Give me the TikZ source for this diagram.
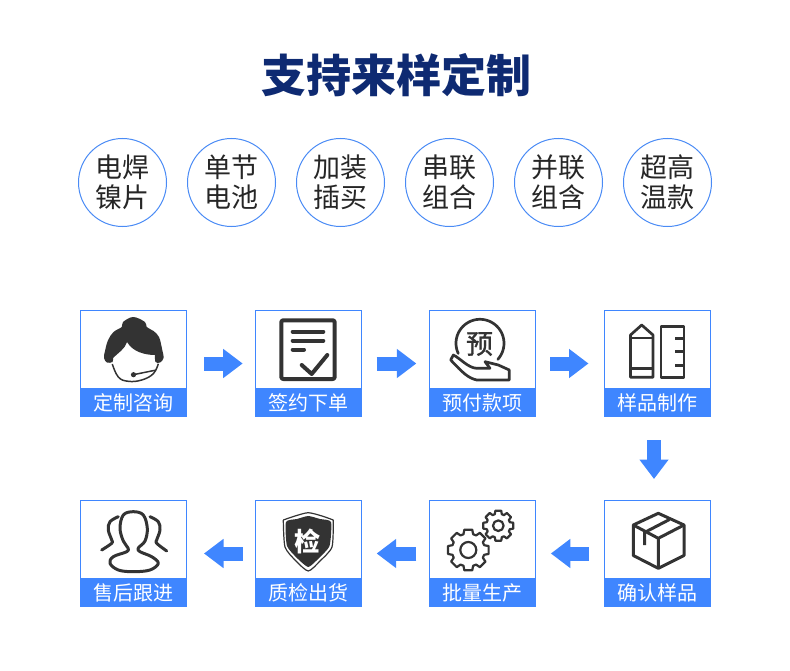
\documentclass[tikz,border=0pt]{standalone}
\usepackage{fontspec}
\usepackage{xcolor}
\setmainfont{Noto Sans CJK SC}
\newfontfamily\coinfont[FakeBold=1.2]{Noto Sans CJK SC}
\usetikzlibrary{arrows.meta,positioning}
\definecolor{flowblue}{HTML}{3F86FF}
\definecolor{titleblue}{HTML}{0E2A72}
\definecolor{ringblue}{HTML}{4A8BF5}
\definecolor{icongray}{HTML}{333333}
\newcommand{\gearicon}[5]{%
  \draw[icon, line width=#5pt] ({#1+#3*cos(-11)},{#2+#3*sin(-11)})
    \foreach \a in {0,45,...,315} {
      -- ({#1+#3*cos(\a-11)},{#2+#3*sin(\a-11)})
      -- ({#1+#3*cos(\a+11)},{#2+#3*sin(\a+11)})
      -- ({#1+#4*cos(\a+17)},{#2+#4*sin(\a+17)})
      -- ({#1+#4*cos(\a+28)},{#2+#4*sin(\a+28)})
    } -- cycle;
}
\begin{document}
\begin{tikzpicture}[
  x=1pt, y=-1pt,
  node distance=21pt,
  ring/.style={draw=ringblue, line width=1pt, circle, minimum size=88pt, inner sep=0pt, outer sep=0pt, align=center, text=black!85, font=\fontsize{27}{30}\selectfont},
  stepbox/.style={draw=flowblue, line width=1pt, minimum width=106pt, minimum height=106pt, inner sep=0pt, outer sep=0pt},
  caption/.style={fill=flowblue, text=white, minimum width=107pt, minimum height=29pt, inner sep=0pt, outer sep=0pt, font=\fontsize{20}{20}\selectfont},
  flowarr/.style={-{Triangle[length=19.5pt,width=28pt]}, line width=14pt, draw=flowblue},
  icon/.style={draw=icongray, line width=2.7pt, line join=round, fill=none}
]
  \useasboundingbox (0,0) rectangle (790,671);
  \node[text=titleblue, font=\fontsize{45}{50}\selectfont\bfseries] (title) at (396,75) {支持来样定制};

  \node[ring] (nickel) at (122.5,182.5) {电焊\\镍片};
  \node[ring, right=of nickel] (single) {单节\\电池};
  \node[ring, right=of single] (plug) {加装\\插买};
  \node[ring, right=of plug] (series) {串联\\组合};
  \node[ring, right=of series] (parallel) {并联\\组含};
  \node[ring, right=of parallel] (hightemp) {超高\\温款};

  \node[stepbox] (consult) at (133.5,363.5) {};
  \node[stepbox, right=68.67pt of consult] (contract) {};
  \node[stepbox, right=68.67pt of contract] (deposit) {};
  \node[stepbox, right=68.67pt of deposit] (sample) {};
  \node[stepbox, below=84pt of sample] (confirm) {};
  \node[stepbox, left=68.67pt of confirm] (batch) {};
  \node[stepbox, left=68.67pt of batch] (inspect) {};
  \node[stepbox, left=68.67pt of inspect] (service) {};

  \node[caption, anchor=south] (consultcap) at ([yshift=-0.5pt]consult.south) {定制咨询};
  \node[caption, anchor=south] (contractcap) at ([yshift=-0.5pt]contract.south) {签约下单};
  \node[caption, anchor=south] (depositcap) at ([yshift=-0.5pt]deposit.south) {预付款项};
  \node[caption, anchor=south] (samplecap) at ([yshift=-0.5pt]sample.south) {样品制作};
  \node[caption, anchor=south] (confirmcap) at ([yshift=-0.5pt]confirm.south) {确认样品};
  \node[caption, anchor=south] (batchcap) at ([yshift=-0.5pt]batch.south) {批量生产};
  \node[caption, anchor=south] (inspectcap) at ([yshift=-0.5pt]inspect.south) {质检出货};
  \node[caption, anchor=south] (servicecap) at ([yshift=-0.5pt]service.south) {售后跟进};

  \draw[flowarr, shorten <=17.5pt, shorten >=12.5pt] (consult) -- (contract);
  \draw[flowarr, shorten <=15.5pt, shorten >=13.5pt] (contract) -- (deposit);
  \draw[flowarr, shorten <=14.5pt, shorten >=16pt] (deposit) -- (sample);
  \draw[flowarr, shorten <=23.5pt, shorten >=21.5pt] ([xshift=-3.5pt]sample.south) -- ([xshift=-3.5pt]confirm.north);
  \draw[flowarr, shorten <=15.5pt, shorten >=15pt] (confirm) -- (batch);
  \draw[flowarr, shorten <=13.5pt, shorten >=15.5pt] (batch) -- (inspect);
  \draw[flowarr, shorten <=12.5pt, shorten >=17.5pt] (inspect) -- (service);

  % woman with headset
  \fill[icongray] plot[smooth, tension=0.6] coordinates {(113,358) (112.5,362) (107,362.5) (104,358) (105,351) (108,340.3) (113.5,332) (121.7,327) (123,322) (133.3,317) (145,322) (146.7,327) (153.5,331) (159,337) (162,348.7) (163.5,358) (160,362.5) (155.5,362) (155,355)} .. controls (145,355) and (133,352) .. (127,342) .. controls (125,349) and (118,353) .. (113,358) -- cycle;
  \draw[icon, line width=1.5pt] plot[smooth, tension=0.7] coordinates {(112.3,364) (118.3,377) (128.3,381.3) (141.7,380) (153.3,373.7) (158.3,363.7)};
  \draw[icon, line width=1.5pt] (155,370.3) -- (133.3,374.7);
  \fill[icongray] (133.5,374.7) circle (2.6);

  % signed form
  \draw[icon, line width=4pt, rounded corners=2pt] (281.3,320.3) rectangle (334.7,379);
  \draw[icon, line width=4pt, line cap=round] (292.7,331.7) -- (323.3,331.7) (292.7,340.7) -- (323.3,340.7) (292.7,349.5) -- (304,349.5);
  \draw[icon, line width=4pt, line cap=round] (301.7,365) -- (311.7,374) -- (327.3,355);

  % coin in hand
  \draw[icon, line cap=round] plot[domain=-205:42, samples=50] ({480+24*cos(\x)},{343.3+24*sin(\x)});
  \node[inner sep=0pt, text=icongray, font=\fontsize{27}{27}\coinfont] (coin) at (479.5,344) {预};
  \draw[icon] (485,361.7) -- (498.3,365) -- (509.3,370) -- (509.3,380) -- (476.7,380) .. controls (468,378) and (463,373) .. (450.7,360) -- (453.3,355) .. controls (460,358) and (468,368) .. (476.7,368.3) -- (490,368.3) -- cycle;

  % pencil and ruler
  \draw[icon] (630.5,377.3) -- (630.5,335) -- (641.7,325) -- (653,335) -- (653,377.3) -- cycle;
  \draw[icon] (630.5,338) -- (653,338) (630.5,368.3) -- (653,368.3);
  \draw[icon] (661,326.7) rectangle (684,377.3);
  \draw[icon] (684,338.3) -- (675,338.3) (684,351.7) -- (675,351.7) (684,365.7) -- (675,365.7);

  % parcel
  \draw[icon, line width=3pt] (658.3,513.3) -- (684,525) -- (684,555.5) -- (658.3,568.3) -- (633.3,555.5) -- (633.3,525) -- cycle;
  \draw[icon, line width=3pt] (633.3,525) -- (658.3,538.3) -- (684,525) (658.3,538.3) -- (658.3,568.3);
  \draw[icon, line width=3pt] (644.5,545) -- (644.5,532.5) -- (669.5,519.5);

  % gears
  \gearicon{468.3}{550}{20.7}{16.5}{2.2}
  \draw[icon, line width=2.2pt] (468.3,550) circle (8);
  \gearicon{498.3}{525.7}{15.3}{12}{2.2}
  \draw[icon, line width=2.2pt] (498.3,525.7) circle (5.3);

  % shield
  \draw[icon, line width=1.2pt] plot[smooth, tension=0.4] coordinates {(283.3,520) (295,516) (308.3,512.7) (322,516) (333.3,520)} plot[smooth, tension=0.4] coordinates {(333.3,520) (332,547) (320,561) (308.3,571) (296,561) (285,547) (283.3,520)};
  \fill[icongray] plot[smooth cycle, tension=0.35] coordinates {(286,522) (297,519) (308.3,516) (320,519) (331,522) (329.5,546) (318,559) (308.3,567) (298,559) (287,546)};
  \node[inner sep=0pt, text=white, font=\fontsize{26}{26}\selectfont\bfseries] (shieldmark) at (307.5,541) {检};

  % customers
  \draw[icon, line width=3pt] plot[smooth cycle, tension=0.6] coordinates {(133.3,511.7) (123.3,515) (120,528.3) (123.3,541) (128,548) (126.7,551.7) (113.3,556.7) (110,563.3) (118.3,570) (133.3,571.7) (150,570) (158.3,563.3) (151.7,556.7) (140,551.7) (138.3,548) (145,541) (147.3,528.3) (143.3,515)};
  \draw[icon, line width=3pt, line cap=round] plot[smooth, tension=0.6] coordinates {(118.3,516.7) (110,521.7) (108.3,530) (111.7,540) (111.7,543.3) (101.7,550)};
  \draw[icon, line width=3pt, line cap=round] plot[smooth, tension=0.6] coordinates {(150,516.7) (158.3,521.7) (160,530) (156.7,540) (156.7,543.3) (166.7,551)};
\end{tikzpicture}
\end{document}
